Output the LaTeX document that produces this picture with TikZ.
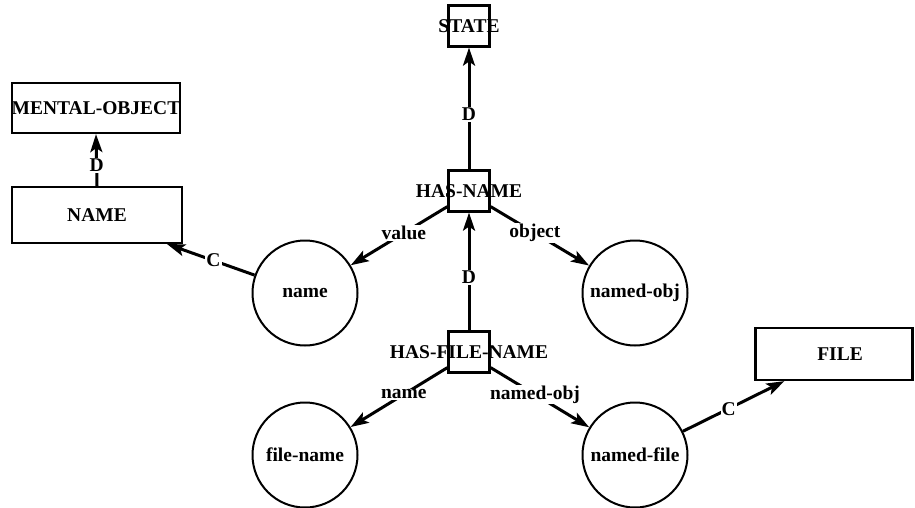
\documentclass[tikz,border=0pt]{standalone}
\usepackage{fontspec}
\setmainfont{Liberation Serif}
\usetikzlibrary{arrows.meta,calc}
\begin{document}
\begin{tikzpicture}[x=1pt,y=-1pt,
  every node/.style={font=\fontsize{19.5}{21}\selectfont\bfseries},
  rbox/.style={draw,line width=2.2pt,inner sep=0pt,rectangle},
  sq/.style={draw,line width=2.2pt,minimum size=41pt,inner sep=0pt},
  circ/.style={draw,circle,line width=2pt,minimum size=105pt,inner sep=0pt},
  txt/.style={inner sep=0pt},
  lbl/.style={fill=white,inner sep=1pt},
  arr/.style={line width=3pt,-{Stealth[length=18pt,width=12pt,inset=4pt]}},
]
\useasboundingbox (0,0) rectangle (915,508);

% boxes
\node[rbox,minimum width=168pt,minimum height=50pt] (mental) at (96,108) {MENTAL-OBJECT};
\node[rbox,minimum width=170pt,minimum height=56pt] (nameb) at (97,215) {NAME};
\node[rbox,minimum width=157pt,minimum height=52pt] (file) at (834,354) {\hspace{12pt}FILE};

% small squares with overlaid text
\node[sq] (state) at (469,26) {};
\node[txt] (statet) at (state) {STATE};
\node[sq] (hasname) at (469,191) {};
\node[txt] (hasnamet) at (hasname) {HAS-NAME};
\node[sq] (hasfile) at (469,352) {};
\node[txt] (hasfilet) at (hasfile) {HAS-FILE-NAME};

% circles
\node[circ] (namec) at (305,293) {name};
\node[circ] (namedobj) at (635,293) {named-obj};
\node[circ] (filename) at (305,455) {file-name};
\node[circ] (namedfile) at (635,455) {named-file};

% D edges
\draw[arr] (hasname.north) -- node[lbl,pos=0.45]{D} (state.south);
\draw[arr] (hasfile.north) -- node[lbl,pos=0.45]{D} (hasname.south);
\draw[arr] (nameb.north) -- node[lbl,pos=0.40]{D} (mental.south);

% role edges
\draw[arr] ($(hasname.south west)+(0,-6)$) -- node[lbl,pos=0.45]{value} (namec);
\draw[arr] ($(hasname.south east)+(0,-6)$) -- node[lbl,pos=0.45]{object} (namedobj);
\draw[arr] ($(hasfile.south west)+(0,-6)$) -- node[lbl,pos=0.45]{name} (filename);
\draw[arr] ($(hasfile.south east)+(0,-6)$) -- node[lbl,pos=0.45]{named-obj} (namedfile);

% C edges
\coordinate (namebtip) at ($(nameb.south east)+(-16,0)$);
\coordinate (filetip) at ($(file.south west)+(30,0)$);
\draw[arr] (namec) -- node[lbl,pos=0.47]{C} (namebtip);
\draw[arr] (namedfile) -- node[lbl,pos=0.45]{C} (filetip);
\end{tikzpicture}
\end{document}
